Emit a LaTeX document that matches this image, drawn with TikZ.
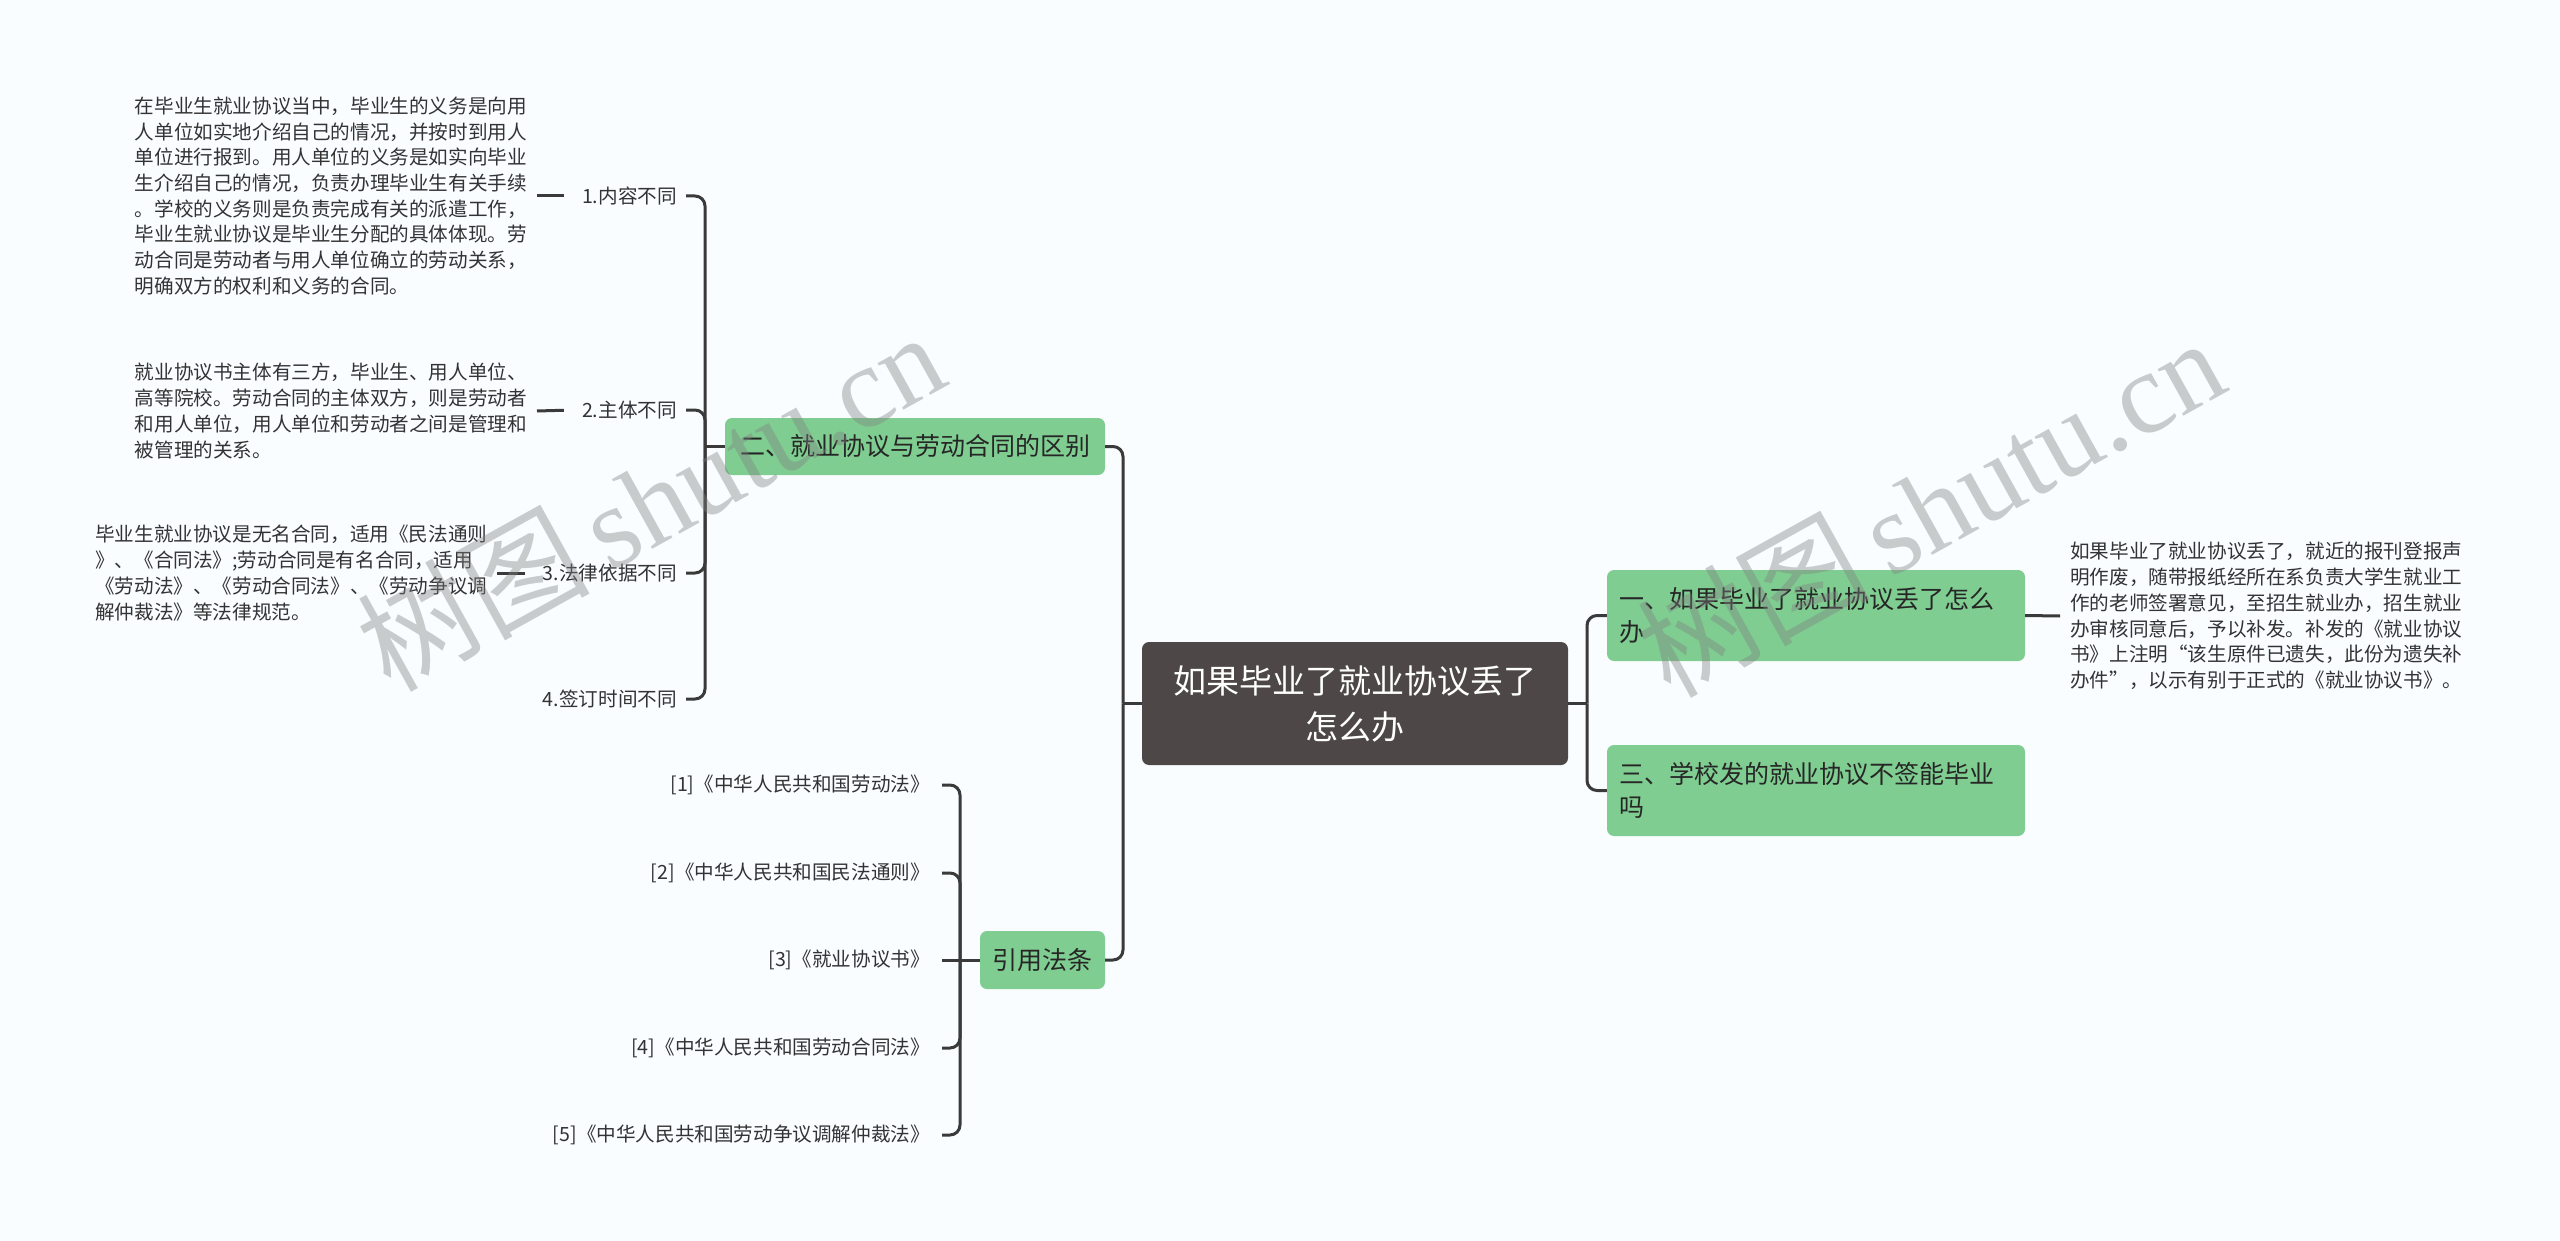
\documentclass[tikz,border=0pt]{standalone}
\usepackage{fontspec}
\setmainfont{Noto Sans CJK SC}
\newfontfamily\wmlatin{Liberation Serif}
\definecolor{bgc}{HTML}{F9FDFF}
\definecolor{rootc}{HTML}{4D4847}
\definecolor{greenc}{HTML}{7FCD91}
\definecolor{linec}{HTML}{3A3A3A}
\definecolor{txtc}{HTML}{333333}
\begin{document}
\begin{tikzpicture}[x=1pt,y=-1pt,
 conn/.style={draw=linec,line width=3pt,rounded corners=10pt},
 rootbox/.style={fill=rootc, rounded corners=7pt, text=white, minimum width=426pt, minimum height=123pt, align=center, font=\fontsize{33}{46}\selectfont, inner sep=0pt},
 greenbox/.style={fill=greenc, rounded corners=7pt, text=black!85, font=\fontsize{25}{33}\selectfont},
 lbl/.style={text=txtc, font=\fontsize{19.6}{25.7}\selectfont, inner xsep=9pt, inner ysep=4pt, anchor=east},
 para/.style={text=txtc, font=\fontsize{19.6}{25.7}\selectfont, align=left, inner xsep=10pt, inner ysep=2pt},
 refl/.style={text=txtc, font=\fontsize{19.6}{25.7}\selectfont, inner xsep=12pt, inner ysep=4pt, anchor=east},
 wm/.style={text=gray, text opacity=0.4, rotate=29, font=\fontsize{116}{120}\selectfont}
]
\fill[bgc] (0,0) rectangle (2560,1241);
\useasboundingbox (0,0) rectangle (2560,1241);

% main nodes
\node[rootbox] (root) at (1355,703.5) {如果毕业了就业协议丢了\\怎么办};
\node[greenbox, minimum width=380pt, minimum height=57pt, inner sep=0pt] (n2) at (915,446.5) {二、就业协议与劳动合同的区别};
\node[greenbox, minimum width=125pt, minimum height=58pt, inner sep=0pt] (nref) at (1042.5,960) {引用法条};
\node[greenbox, text width=394pt, minimum height=91pt, inner xsep=12pt, align=left] (n1) at (1816,615.5) {一、如果毕业了就业协议丢了怎么\\办};
\node[greenbox, text width=394pt, minimum height=91pt, inner xsep=12pt, align=left] (n3) at (1816,790.5) {三、学校发的就业协议不签能毕业\\吗};

% right paragraph
\node[para, anchor=west] (pr) at (2060,616) {如果毕业了就业协议丢了，就近的报刊登报声\\明作废，随带报纸经所在系负责大学生就业工\\作的老师签署意见，至招生就业办，招生就业\\办审核同意后，予以补发。补发的《就业协议\\书》上注明“该生原件已遗失，此份为遗失补\\办件”，以示有别于正式的《就业协议书》。};

% labels of section 2
\node[lbl] (l1) at (686,196) {1.内容不同};
\node[lbl] (l2) at (686,410) {2.主体不同};
\node[lbl] (l3) at (686,573) {3.法律依据不同};
\node[lbl] (l4) at (686,699) {4.签订时间不同};

% left paragraphs
\node[para, anchor=east] (pa) at (537,196) {在毕业生就业协议当中，毕业生的义务是向用\\人单位如实地介绍自己的情况，并按时到用人\\单位进行报到。用人单位的义务是如实向毕业\\生介绍自己的情况，负责办理毕业生有关手续\\。学校的义务则是负责完成有关的派遣工作，\\毕业生就业协议是毕业生分配的具体体现。劳\\动合同是劳动者与用人单位确立的劳动关系，\\明确双方的权利和义务的合同。};
\node[para, anchor=east] (pb) at (537,411) {就业协议书主体有三方，毕业生、用人单位、\\高等院校。劳动合同的主体双方，则是劳动者\\和用人单位，用人单位和劳动者之间是管理和\\被管理的关系。};
\node[para, anchor=west] (pc) at (85,573) {毕业生就业协议是无名合同，适用《民法通则\\》、《合同法》;劳动合同是有名合同，适用\\《劳动法》、《劳动合同法》、《劳动争议调\\解仲裁法》等法律规范。};

% references
\node[refl] (r1) at (942,785) {[1]《中华人民共和国劳动法》};
\node[refl] (r2) at (942,873) {[2]《中华人民共和国民法通则》};
\node[refl] (r3) at (942,960) {[3]《就业协议书》};
\node[refl] (r4) at (942,1048) {[4]《中华人民共和国劳动合同法》};
\node[refl] (r5) at (942,1135) {[5]《中华人民共和国劳动争议调解仲裁法》};

% connectors
\coordinate (tL) at (1123,703.5);
\draw[conn] (root.west) -- (tL);
\draw[conn] (tL) |- (n2.east);
\draw[conn] (tL) |- (nref.east);
\coordinate (tR) at (1587,703.5);
\draw[conn] (root.east) -- (tR);
\draw[conn] (tR) |- (n1.west);
\draw[conn] (tR) |- (n3.west);
\draw[conn] (n1.east) -- (pr.west);

\coordinate (t2) at (705,446.5);
\draw[conn] (n2.west) -- (t2);
\foreach \i in {1,2,3,4} {\draw[conn] (t2) |- (l\i.east);}
\draw[conn, shorten >=9pt] (pa.east) -- (l1.west);
\draw[conn, shorten >=9pt] (pb.east) -- (l2.west);
\draw[conn, shorten >=9pt] (pc.east) -- (l3.west);

\coordinate (t3) at (960,960);
\draw[conn] (nref.west) -- (t3);
\foreach \i in {1,2,4,5} {\draw[conn] (t3) |- (r\i.east);}
\draw[conn] (t3) -- (r3.east);

% watermarks
\node[wm] (w1) at (650,500) {树图\,{\wmlatin shutu.cn}};
\node[wm] (w2) at (1930,506) {树图\,{\wmlatin shutu.cn}};
\end{tikzpicture}
\end{document}
